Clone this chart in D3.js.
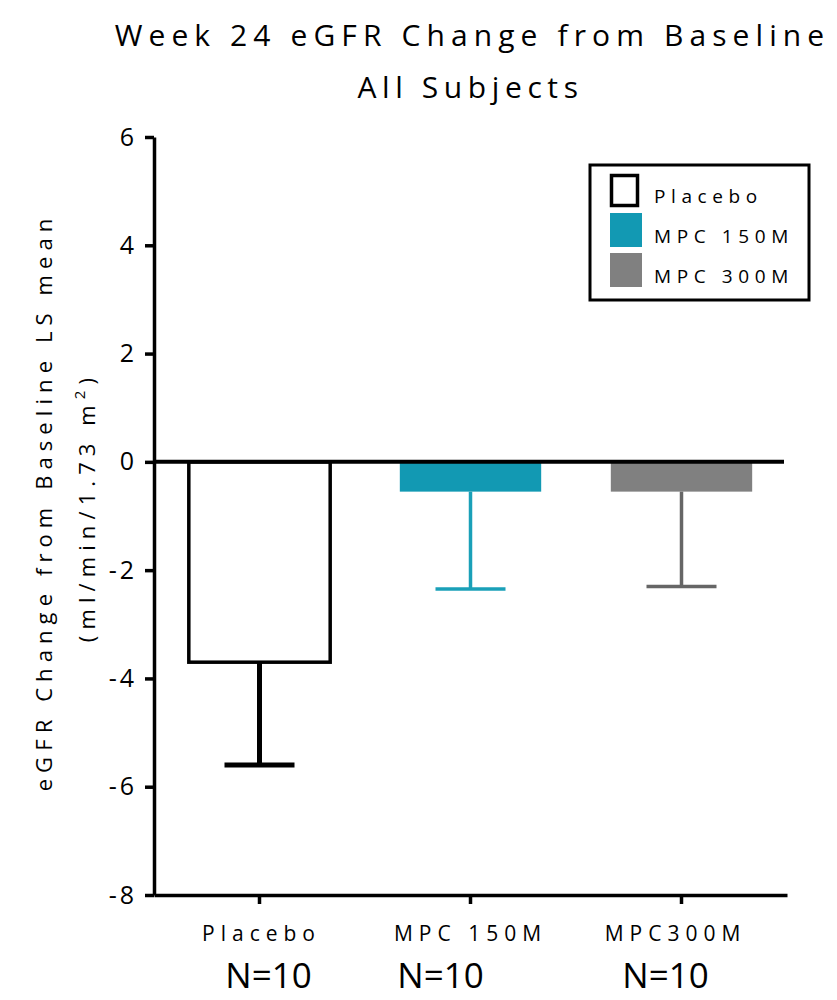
<!DOCTYPE html>
<html>
<head>
<meta charset="utf-8">
<script src="https://cdn.jsdelivr.net/npm/d3@7"></script>
<style>
  html, body { margin: 0; padding: 0; background: #fff; }
  svg { display: block; font-family: "Open Sans", "Lato", sans-serif; }
</style>
</head>
<body>
<svg id="chart" width="837" height="1000"></svg>
<script>
// ---- data ----
const categories = ["Placebo", "MPC 150M", "MPC 300M"];
const axisLabels = ["Placebo", "MPC 150M", "MPC300M"];
const means = [-3.7, -0.55, -0.55];
const errorLow = [-5.6, -2.35, -2.3];
const nLabels = ["N=10", "N=10", "N=10"];
const yTicks = [6, 4, 2, 0, -2, -4, -6, -8];
const titleLines = ["Week 24 eGFR Change from Baseline", "All Subjects"];

// ---- styles ----
const fills = ["#ffffff", "#1299b3", "#808080"];
const strokes = ["#000000", "none", "none"];
const errColors = ["#000000", "#1aa0b8", "#666666"];
const errWidths = [5, 3.5, 3.5];

(function () {
const svg = d3.select("#chart");
const mLeft = 154, mRight = 787, mTop = 137, mBottom = 895;

const x = d3.scaleBand().domain(categories).range([mLeft, mRight])
  .paddingInner(0.33).paddingOuter(0.165);
const y = d3.scaleLinear().domain([-8, 6]).range([mBottom, mTop]);

// title
svg.selectAll("text.title").data(titleLines).enter().append("text")
  .attr("class", "title")
  .attr("x", (d, i) => (mLeft + mRight) / 2 + (i === 0 ? 2 : 0))
  .attr("y", (d, i) => 46 + i * 52)
  .attr("text-anchor", "middle")
  .attr("font-size", 30)
  .attr("letter-spacing", (d, i) => i === 0 ? 6.1 : 5.6)
  .attr("fill", "#000")
  .text(d => d);

// bars
const bars = svg.append("g");
bars.selectAll("rect").data(categories).enter().append("rect")
  .attr("x", d => x(d))
  .attr("y", y(0))
  .attr("width", x.bandwidth())
  .attr("height", (d, i) => y(means[i]) - y(0))
  .attr("fill", (d, i) => fills[i])
  .attr("stroke", (d, i) => strokes[i])
  .attr("stroke-width", 3.5);

// error bars
const capW = 70;
const eb = svg.append("g");
categories.forEach((c, i) => {
  const cx = x(c) + x.bandwidth() / 2;
  eb.append("line")
    .attr("x1", cx).attr("x2", cx)
    .attr("y1", y(means[i])).attr("y2", y(errorLow[i]))
    .attr("stroke", errColors[i]).attr("stroke-width", errWidths[i]);
  eb.append("line")
    .attr("x1", cx - capW / 2).attr("x2", cx + capW / 2)
    .attr("y1", y(errorLow[i])).attr("y2", y(errorLow[i]))
    .attr("stroke", errColors[i]).attr("stroke-width", errWidths[i]);
});

// y axis
const yAxis = svg.append("g").attr("transform", `translate(${mLeft},0)`)
  .call(d3.axisLeft(y).tickValues(yTicks).tickSize(9).tickSizeOuter(0).tickPadding(8)
    .tickFormat(d => String(d)));
yAxis.select(".domain").attr("stroke", "#000").attr("stroke-width", 3.5);
yAxis.selectAll(".tick line").attr("stroke", "#000").attr("stroke-width", 3.5);
yAxis.selectAll(".tick text").attr("font-size", 25).attr("fill", "#000")
  .attr("letter-spacing", 3).attr("font-family", "Open Sans, sans-serif");

// x axis
const xAxis = svg.append("g").attr("transform", `translate(0,${mBottom})`)
  .call(d3.axisBottom(x).tickSize(9).tickSizeOuter(0).tickFormat(""));
xAxis.select(".domain").attr("stroke", "#000").attr("stroke-width", 3.5);
xAxis.selectAll(".tick line").attr("stroke", "#000").attr("stroke-width", 3.5);

// zero line
svg.append("line")
  .attr("x1", mLeft).attr("x2", mRight - 3)
  .attr("y1", y(0)).attr("y2", y(0))
  .attr("stroke", "#000").attr("stroke-width", 4);

// category labels
svg.selectAll("text.cat").data(axisLabels).enter().append("text")
  .attr("class", "cat")
  .attr("x", (d, i) => x(categories[i]) + x.bandwidth() / 2 + [2, 0, -6][i])
  .attr("y", 941)
  .attr("text-anchor", "middle")
  .attr("font-size", 21)
  .attr("letter-spacing", 6)
  .attr("fill", "#000")
  .text(d => d);

// N labels
svg.selectAll("text.n").data(nLabels).enter().append("text")
  .attr("class", "n")
  .attr("x", (d, i) => x(categories[i]) + x.bandwidth() / 2 + [9, -30, -16][i])
  .attr("y", 988)
  .attr("text-anchor", "middle")
  .attr("font-size", 35)
  .attr("fill", "#000")
  .text(d => d);

// y axis label
svg.append("text")
  .attr("transform", "translate(52,502) rotate(-90)")
  .attr("text-anchor", "middle")
  .attr("font-size", 22)
  .attr("letter-spacing", 6.1)
  .attr("fill", "#000")
  .text("eGFR Change from Baseline  LS mean");
const yl2 = svg.append("text")
  .attr("transform", "translate(95,507) rotate(-90)")
  .attr("text-anchor", "middle")
  .attr("font-size", 22)
  .attr("letter-spacing", 6.1)
  .attr("fill", "#000");
yl2.append("tspan").text("(ml/min/1.73 m");
yl2.append("tspan").attr("dy", -10).attr("font-size", 15).text("2");
yl2.append("tspan").attr("dy", 10).text(")");

// legend
const lg = svg.append("g").attr("transform", "translate(590,165)");
lg.append("rect").attr("x", 0).attr("y", 0).attr("width", 219).attr("height", 135)
  .attr("fill", "#fff").attr("stroke", "#000").attr("stroke-width", 3);
categories.forEach((c, i) => {
  const gy = 9 + i * 40;
  const isOutline = i === 0;
  lg.append("rect")
    .attr("x", isOutline ? 21.5 : 20)
    .attr("y", isOutline ? gy + 1.5 : gy - 1)
    .attr("width", isOutline ? 26 : 32)
    .attr("height", isOutline ? 30 : 34)
    .attr("fill", fills[i])
    .attr("stroke", isOutline ? "#000" : "none")
    .attr("stroke-width", 3.5);
  lg.append("text")
    .attr("x", 64).attr("y", gy + 29)
    .attr("font-size", 19)
    .attr("letter-spacing", 5.6)
    .attr("fill", "#000")
    .text(c);
});
})();
</script>
</body>
</html>
